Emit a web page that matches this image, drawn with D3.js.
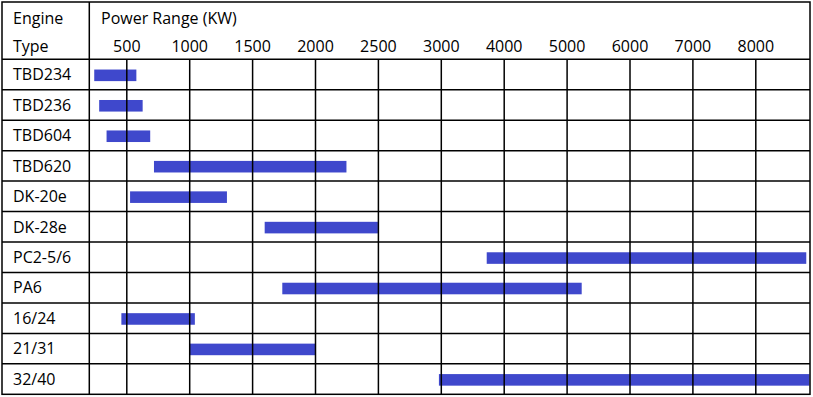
<!DOCTYPE html>
<html>
<head>
<meta charset="utf-8">
<script src="https://cdn.jsdelivr.net/npm/d3@7"></script>
<style>
  body { margin: 0; background: #fff; }
  text { font-family: "Open Sans", sans-serif; font-size: 16px; fill: #000; }
</style>
</head>
<body>
<div id="chart"></div>
<script>
// engine types and their power ranges (kW)
const engines = ["TBD234", "TBD236", "TBD604", "TBD620", "DK-20e", "DK-28e",
                 "PC2-5/6", "PA6", "16/24", "21/31", "32/40"];
const powerMin = [240, 280, 340, 720, 530, 1600, 3730, 1740, 460, 1000, 2985];
const powerMax = [580, 630, 690, 2250, 1300, 2500, 8820, 5240, 1045, 2000, 8870];

// column labels of the power axis (uneven steps, equally spaced)
const powerTicks = [500, 1000, 1500, 2000, 2500, 3000, 4000, 5000, 6000, 7000, 8000];
const powerStart = 200, powerEnd = 8880;

const width = 813, height = 397;
const table = { left: 2, top: 2, right: 810, bottom: 394.3 };
const firstCol = 89.3;   // right edge of "Engine Type" column
const headerBottom = 59.3;
const step = 62.9;       // distance between grid columns
const lineW = 1.5;

const svg = d3.select("#chart")
  .append("svg")
  .attr("width", width)
  .attr("height", height)
  .attr("viewBox", [0, 0, width, height]);

// piecewise x scale: each tick gets one equal column
const x0 = firstCol + 37;  // where 500 sits
const x = d3.scaleLinear()
  .domain([powerStart, ...powerTicks, powerEnd])
  .range([firstCol, ...powerTicks.map((t, i) => x0 + i * step), table.right]);

const y = d3.scaleBand()
  .domain(engines)
  .range([headerBottom, table.bottom]);

const data = engines.map((e, i) => ({ name: e, lo: powerMin[i], hi: powerMax[i] }));

// bars first so grid lines sit on top
const barH = y.bandwidth() * 0.38;
svg.append("g")
  .selectAll("rect")
  .data(data)
  .join("rect")
    .attr("x", d => x(d.lo))
    .attr("width", d => x(d.hi) - x(d.lo))
    .attr("y", d => y(d.name) + (y.bandwidth() - barH) / 2 + 0.8)
    .attr("height", barH)
    .attr("fill", "#3f48cc");

// vertical grid + tick labels in the header
const gx = svg.append("g")
  .attr("transform", `translate(0,${headerBottom})`)
  .call(d3.axisTop(x)
    .tickValues(powerTicks)
    .tickFormat(d => d)
    .tickSize(-(table.bottom - headerBottom))
    .tickPadding(7));
gx.select(".domain").remove();
gx.selectAll(".tick line").attr("stroke", "#000").attr("stroke-width", lineW);
gx.attr("font-family", null).attr("font-size", null);

// horizontal row lines
svg.append("g")
  .selectAll("line")
  .data(engines)
  .join("line")
    .attr("x1", table.left)
    .attr("x2", table.right)
    .attr("y1", d => y(d))
    .attr("y2", d => y(d))
    .attr("stroke", "#000")
    .attr("stroke-width", lineW);

// first column divider
svg.append("line")
  .attr("x1", firstCol).attr("x2", firstCol)
  .attr("y1", table.top).attr("y2", table.bottom)
  .attr("stroke", "#000").attr("stroke-width", lineW);

// outer border
svg.append("rect")
  .attr("x", table.left).attr("y", table.top)
  .attr("width", table.right - table.left)
  .attr("height", table.bottom - table.top)
  .attr("fill", "none")
  .attr("stroke", "#000")
  .attr("stroke-width", lineW);

// row labels
svg.append("g")
  .selectAll("text")
  .data(engines)
  .join("text")
    .attr("x", 13)
    .attr("y", d => y(d) + y.bandwidth() / 2)
    .attr("dy", "0.36em")
    .text(d => d);

// header texts
svg.append("text").attr("x", 13).attr("y", 24).text("Engine");
svg.append("text").attr("x", 13).attr("y", 52).text("Type");
svg.append("text").attr("x", 101).attr("y", 24).text("Power Range (KW)");
</script>
</body>
</html>
